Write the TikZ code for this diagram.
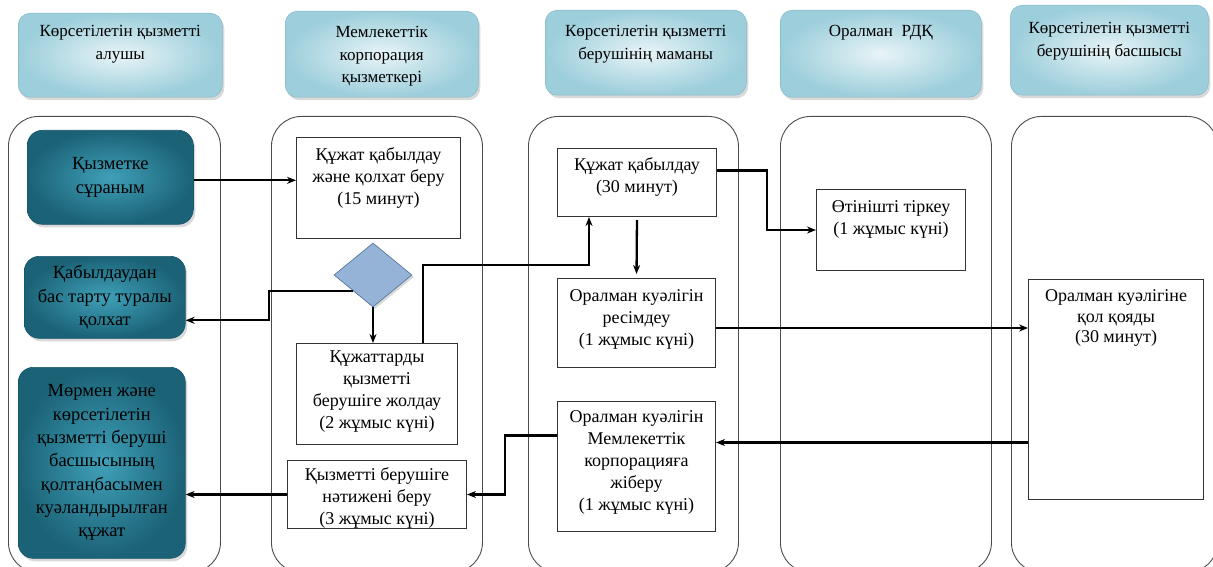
\documentclass[tikz,border=0pt]{standalone}
\usepackage{fontspec}
\setmainfont{Liberation Serif}
\usetikzlibrary{arrows.meta,shapes.geometric,shadows}

\definecolor{hdrin}{HTML}{E8F4F7}
\definecolor{hdrout}{HTML}{9CCEDB}
\definecolor{hdrline}{HTML}{86B9C7}
\definecolor{tealin}{HTML}{3FA0B8}
\definecolor{tealout}{HTML}{1B6276}
\definecolor{tealline}{HTML}{16546A}
\definecolor{diafill}{HTML}{95B3D7}
\definecolor{dialine}{HTML}{4F6E96}

% top-aligned text block of a fixed size: width, height, top padding, text
\newcommand\inbox[4]{\parbox[c][#2][t]{#1}{\centering\vspace*{#3}\strut#4\par}}

\tikzset{
  lane/.style={draw=black!70, line width=0.9pt, rounded corners=30pt,
    inner sep=0pt, anchor=north west},
  hdr/.style={rounded corners=12pt, inner color=hdrin, outer color=hdrout,
    draw=hdrline, line width=0.5pt, inner sep=0pt, anchor=north west,
    drop shadow={opacity=0.3, shadow xshift=2pt, shadow yshift=-3pt},
    font=\fontsize{17}{22.5}\selectfont},
  tealbox/.style={rounded corners=15pt, inner color=tealin, outer color=tealout,
    draw=tealline, line width=0.6pt, inner sep=0pt, anchor=north west,
    drop shadow={opacity=0.3, shadow xshift=2pt, shadow yshift=-3pt},
    align=center, font=\fontsize{18.5}{23.3}\selectfont},
  wbox/.style={draw=black!80, line width=1pt, fill=white, inner sep=0pt,
    anchor=north west, font=\fontsize{18}{22}\selectfont},
  decision/.style={diamond, draw=dialine, line width=0.6pt, fill=diafill,
    inner sep=0pt, minimum width=78pt, minimum height=64pt,
    drop shadow={opacity=0.3, shadow xshift=2pt, shadow yshift=-2pt}},
  arr/.style={line width=2.3pt, -{Stealth[length=9pt,width=7pt]}},
}

\begin{document}
\begin{tikzpicture}[x=1pt,y=-1pt]
\clip (0,0) rectangle (1213,567);

% swimlanes
\node[lane, minimum width=212pt, minimum height=456pt] (lane1) at (8,116) {};
\node[lane, minimum width=211pt, minimum height=456pt] (lane2) at (271,116) {};
\node[lane, minimum width=210pt, minimum height=456pt] (lane3) at (528,116) {};
\node[lane, minimum width=211pt, minimum height=456pt] (lane4) at (780,116) {};
\node[lane, minimum width=206pt, minimum height=456pt] (lane5) at (1011,116) {};

% lane headers
\node[hdr] (h1) at (18,13) {\inbox{204pt}{84pt}{8pt}{Көрсетілетін қызметті\\алушы}};
\node[hdr] (h2) at (285,11) {\inbox{193pt}{86pt}{11pt}{Мемлекеттік\\корпорация\\қызметкері}};
\node[hdr] (h3) at (545,10) {\inbox{201pt}{85pt}{11pt}{Көрсетілетін қызметті\\берушінің маманы}};
\node[hdr] (h4) at (780,10) {\inbox{201pt}{87pt}{11pt}{Оралман\ \ РДҚ}};
\node[hdr] (h5) at (1010,5) {\inbox{198pt}{90pt}{13pt}{Көрсетілетін қызметті\\берушінің басшысы}};

% service recipient
\node[tealbox, minimum width=166pt, minimum height=94pt] (req) at (27,130)
  {Қызметке\\сұраным};
\node[tealbox, minimum width=161pt, minimum height=82pt] (rej) at (24,256)
  {Қабылдаудан\\бас тарту туралы\\қолхат};
\node[tealbox, minimum width=167pt, minimum height=191pt] (stamp) at (18,367)
  {Мөрмен және\\көрсетілетін\\қызметті беруші\\басшысының\\қолтаңбасымен\\куәландырылған\\құжат};

% state corporation
\node[wbox] (doc1) at (296,137)
  {\inbox{164pt}{101pt}{8pt}{Құжат қабылдау\\және қолхат беру\\(15 минут)}};
\node[decision] (dia) at (373,275) {};
\node[wbox] (sendd) at (296,343)
  {\inbox{161pt}{101pt}{4pt}{Құжаттарды\\қызметті\\берушіге жолдау\\(2 жұмыс күні)}};
\node[wbox] (give) at (287,460)
  {\inbox{179pt}{68pt}{5pt}{Қызметті берушіге\\нәтижені беру\\(3 жұмыс күні)}};

% provider's specialist
\node[wbox] (acc) at (557,148)
  {\inbox{159pt}{68pt}{7pt}{Құжат қабылдау\\(30 минут)}};
\node[wbox] (res) at (557,278)
  {\inbox{158pt}{89pt}{8pt}{Оралман куәлігін\\ресімдеу\\(1 жұмыс күні)}};
\node[wbox] (send2) at (557,401)
  {\inbox{158pt}{130pt}{6pt}{Оралман куәлігін\\Мемлекеттік\\корпорацияға\\жіберу\\(1 жұмыс күні)}};

% oralman registry
\node[wbox] (reg) at (816,189)
  {\inbox{149pt}{81pt}{8pt}{Өтінішті тіркеу\\(1 жұмыс күні)}};

% head of provider
\node[wbox, font=\fontsize{18}{20.5}\selectfont] (sign) at (1028,279)
  {\inbox{175pt}{220pt}{8pt}{Оралман куәлігіне\\қол қояды\\(30 минут)}};

% bend points of the connectors
\coordinate (a1) at ([yshift=-3pt]req.east);
\coordinate (rejin) at ([yshift=-23pt]rej.east);
\coordinate (bx2) at (269,0);
\coordinate (s4) at ([xshift=46pt]sendd.north);
\coordinate (e4) at ([xshift=-48pt]acc.south);
\coordinate (m4) at (0,265);
\coordinate (a6) at ([yshift=12pt]acc.east);
\coordinate (bx6) at (767,0);
\coordinate (a7) at ([yshift=-5pt]res.east);
\coordinate (a8) at ([yshift=24pt]send2.east);
\coordinate (a9) at ([yshift=31pt]send2.west);
\coordinate (bx9) at (505,0);

% connectors
\draw[arr] (a1) -- (a1 -| doc1.west);
\draw[arr] (dia.south west) -- (dia.south west -| bx2) -- (bx2 |- rejin) -- (rejin);
\draw[arr] (dia.south) -- (dia.south |- sendd.north);
\draw[arr] (s4) -- (s4 |- m4) -- (e4 |- m4) -- (e4);
\draw[arr, shorten <=3pt, shorten >=4pt] (acc.south) -- (res.north);
\draw[arr] (a6) -- (a6 -| bx6) -- (bx6 |- reg.west) -- (reg.west);
\draw[arr] (a7) -- (a7 -| sign.west);
\draw[arr] (a8 -| sign.west) -- (a8);
\draw[arr] (a9) -- (a9 -| bx9) -- (bx9 |- give.east) -- (give.east);
\draw[arr] (give.west) -- (give.west -| stamp.east);
\end{tikzpicture}
\end{document}
